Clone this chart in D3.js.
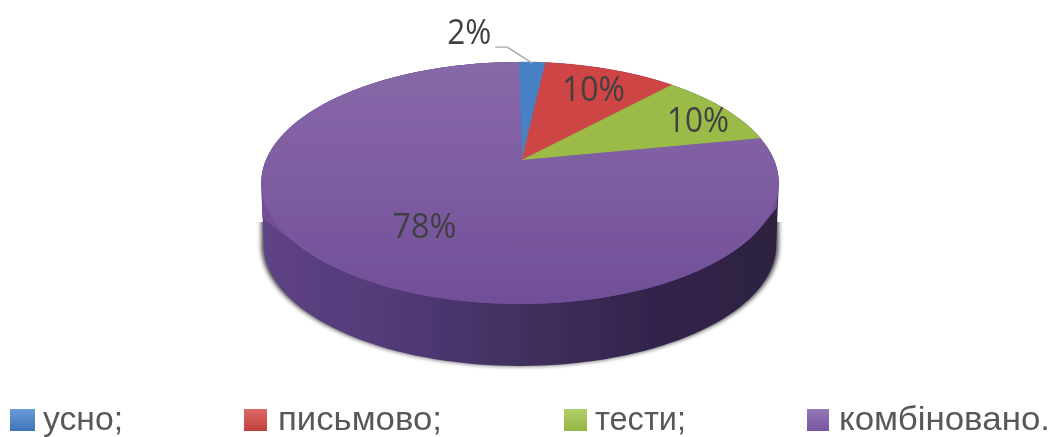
<!DOCTYPE html>
<html><head><meta charset="utf-8">
<script src="https://cdnjs.cloudflare.com/ajax/libs/d3/7.8.5/d3.min.js"></script>
<style>html,body{margin:0;padding:0;background:#fff;overflow:hidden}svg{display:block}text{font-family:"Open Sans",sans-serif;fill:#404040}</style>
</head><body><svg id="c" width="1055" height="437"></svg>
<script>
const categories = ["усно;", "письмово;", "тести;", "комбіновано."];
const values = [2, 10, 10, 78];
const valueLabels = ["2%", "10%", "10%", "78%"];
const colors = ["#4a82c4", "#cf4444", "#9bbb4a", "#8064a6"];
const legendTop = ["#6b9bd8", "#dc6a66", "#b3d066", "#9478b8"];
const legendBottom = ["#3f74b8", "#c0403c", "#93b545", "#76569f"];

// layout
const apex = {x: 522, y: 160}, A = 254, K = 0.19, B = -86.2, depth = 62, outlineShift = -2;
const startDeg = -0.3;
const labelLayout = [
  {r: 1.0, dx: -63, dy: -30, w: 44},
  {r: 0.75, dx: 2, dy: -1, w: 63},
  {r: 0.87, dx: -1, dy: 6, w: 62},
  {r: 0.556, dx: 1, dy: 11, w: 64}
];
const legendLayout = [
  {sx: 10, sw: 25, tx: 43, tw: 80}, {sx: 244, sw: 23, tx: 278, tw: 164},
  {sx: 564, sw: 23, tx: 595, tw: 91}, {sx: 807, sw: 22, tx: 839, tw: 211}
];

const project = (ang, r = 1) => {
  const u = r * Math.sin(ang), v = r * Math.cos(ang), w = 1 + K * v;
  return [apex.x + outlineShift * r + A * u / w, (B * v + apex.y) / w];
};
const svg = d3.select("#c");
const defs = svg.append("defs");
function blur(id, sd) {
  defs.append("filter").attr("id", id).attr("x", "-5%").attr("y", "-5%").attr("width", "110%").attr("height", "110%")
    .append("feGaussianBlur").attr("stdDeviation", sd);
}
blur("soft", 0.7); blur("shadow", 2.2); blur("txt", 0.4);

function grad(id, dir, stops) {
  const g = defs.append("linearGradient").attr("id", id).attr("x1", 0).attr("y1", 0)
    .attr("x2", dir === "h" ? 1 : 0).attr("y2", dir === "h" ? 0 : 1);
  stops.forEach(s => g.append("stop").attr("offset", s[0]).attr("stop-color", s[1]));
}
grad("wall", "h", [[0, "#5e4385"], [0.25, "#523a78"], [0.5, "#41305f"], [0.75, "#33244c"], [1, "#2d2040"]]);
grad("top", "v", [[0, "#8768a8"], [0.5, "#7d5da1"], [1, "#714f98"]]);
colors.forEach((c, i) => grad("leg" + i, "v", [[0, legendTop[i]], [1, legendBottom[i]]]));

const start = startDeg * Math.PI / 180;
const arcs = d3.pie().sort(null).startAngle(start).endAngle(start + 2 * Math.PI)(values);
const line = d3.line();
const outline = d3.range(0, 361, 2).map(d => project(d * Math.PI / 180));
const hull = d3.polygonHull(outline.concat(outline.map(p => [p[0], p[1] + depth])));
const wallHull = d3.polygonHull(outline.map(p => [apex.x + (p[0] - apex.x) * 0.99, p[1] + depth]).concat(outline));

// shadow only around the lower part of the drum
const shadowClip = defs.append("clipPath").attr("id", "lower");
shadowClip.append("rect").attr("x", 0).attr("y", 222).attr("width", 1055).attr("height", 215);
svg.append("g").attr("clip-path", "url(#lower)").append("path").attr("d", line(hull) + "Z")
  .attr("fill", "#1e1a22").attr("opacity", 0.8).attr("filter", "url(#shadow)");
svg.append("path").attr("d", line(wallHull) + "Z").attr("fill", "url(#wall)").attr("filter", "url(#soft)");

// lit rim at the left and right extremes of the drum
const left = d3.least(outline, p => p[0]), right = d3.greatest(outline, p => p[0]);
const rim = d3.polygonHull(outline.concat([[left[0] + 1, left[1] + 37], [right[0] - 2, right[1] + 27]]));
svg.append("path").attr("d", line(rim) + "Z").attr("fill", "#714f98").attr("filter", "url(#soft)");

const top_ = svg.append("g").attr("filter", "url(#soft)");
top_.selectAll("path").data(arcs).join("path")
  .attr("d", d => {
    const n = Math.max(4, Math.ceil((d.endAngle - d.startAngle) / 0.02));
    const pts = d3.range(n + 1).map(i => project(d.startAngle + (d.endAngle - d.startAngle) * i / n));
    return line([[apex.x, apex.y], ...pts]) + "Z";
  })
  .attr("fill", (d, i) => i === 3 ? "url(#top)" : colors[i])
  .attr("stroke", (d, i) => i === 3 ? "none" : colors[i]).attr("stroke-width", 0.5);

// leader line for the smallest slice
const m0 = (arcs[0].startAngle + arcs[0].endAngle) / 2;
const p0 = project(m0);
svg.append("path").attr("d", line([[p0[0], p0[1] + 1], [p0[0] - 25, p0[1] - 15], [p0[0] - 37, p0[1] - 15]]))
  .attr("fill", "none").attr("stroke", "#a6a6a6").attr("stroke-width", 1.3);

svg.append("g").attr("filter", "url(#txt)").selectAll("text").data(arcs).join("text")
  .attr("text-anchor", "start").attr("font-size", 34)
  .attr("textLength", (d, i) => labelLayout[i].w).attr("lengthAdjust", "spacingAndGlyphs")
  .attr("x", (d, i) => project((d.startAngle + d.endAngle) / 2, labelLayout[i].r)[0] + labelLayout[i].dx - labelLayout[i].w / 2)
  .attr("y", (d, i) => project((d.startAngle + d.endAngle) / 2, labelLayout[i].r)[1] + labelLayout[i].dy + 12)
  .text((d, i) => valueLabels[i]);

const leg = svg.append("g").attr("filter", "url(#txt)").selectAll("g").data(categories).join("g");
leg.append("rect").attr("x", (d, i) => legendLayout[i].sx).attr("y", 409).attr("width", (d, i) => legendLayout[i].sw).attr("height", 22)
  .attr("fill", (d, i) => `url(#leg${i})`);
leg.append("text").attr("x", (d, i) => legendLayout[i].tx).attr("y", 430).attr("font-size", 33)
  .style("font-family", '"Liberation Sans",sans-serif').style("fill", "#595959")
  .attr("textLength", (d, i) => legendLayout[i].tw).attr("lengthAdjust", "spacingAndGlyphs").text(d => d);
</script></body></html>
